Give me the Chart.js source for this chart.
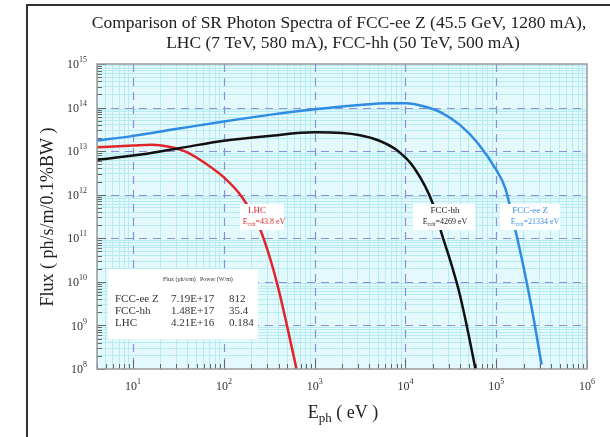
<!DOCTYPE html>
<html>
<head>
<meta charset="utf-8">
<script src="https://cdn.jsdelivr.net/npm/chart.js@4.4.1/dist/chart.umd.min.js"></script>
<style>
  html, body { margin: 0; padding: 0; background: #fff; }
</style>
</head>
<body>
<canvas id="chart" width="610" height="437"></canvas>
<script>
// photon energy (eV) / flux (ph/s/m/0.1%BW)
const eeZEnergy = [4, 10, 32, 100, 316, 1000, 3160, 6300, 10000, 15800, 25100, 39800, 63100, 100000, 126000, 158000, 200000, 251000, 316000];
const eeZFlux   = [1.74e13, 2.24e13, 3.3e13, 4.8e13, 6.8e13, 9.1e13, 1.15e14, 1.26e14, 1.25e14, 1.07e14, 7.6e13, 4.0e13, 1.5e13, 3.7e12, 1.4e12, 2.0e11, 2.2e10, 2.0e9, 1.26e8];

const hhEnergy = [4, 10, 32, 100, 316, 1000, 2000, 3160, 5000, 7940, 12600, 20000, 25100, 31600, 39800, 50100, 59000];
const hhFlux   = [6.3e12, 7.9e12, 1.17e13, 1.74e13, 2.24e13, 2.7e13, 2.62e13, 2.32e13, 1.78e13, 1.07e13, 4.0e12, 6.3e11, 1.26e11, 2.8e10, 5.0e9, 5.6e8, 1.0e8];

const lhcEnergy = [4, 10, 16, 25, 40, 63, 100, 158, 251, 316, 398, 501, 631];
const lhcFlux   = [1.23e13, 1.35e13, 1.41e13, 1.26e13, 9.3e12, 5.2e12, 2.5e12, 8.9e11, 1.6e11, 4.0e10, 7.1e9, 8.9e8, 1.0e8];

const xRange = [4, 1e6];
const yRange = [1e8, 1e15];
const xDecades = [1, 2, 3, 4, 5, 6];
const yDecades = [8, 9, 10, 11, 12, 13, 14, 15];

const critLabels = [
  { name: 'LHC', ecrit: '=43.8 eV', color: '#e0262a' },
  { name: 'FCC-hh', ecrit: '=4269 eV', color: '#222' },
  { name: 'FCC-ee Z', ecrit: '=21334 eV', color: '#3a8ee0' }
];
const tableRows = [
  ['FCC-ee Z', '7.19E+17', '812'],
  ['FCC-hh', '1.48E+17', '35.4'],
  ['LHC', '4.21E+16', '0.184']
];

const SERIF = '"Liberation Serif", "DejaVu Serif", serif';

function pts(xs, ys) { return xs.map((x, i) => ({ x: x, y: ys[i] })); }

function isDecade(v) {
  const l = Math.log10(v);
  return Math.abs(l - Math.round(l)) < 1e-6;
}

function logTicks(min, max) {
  const out = [];
  for (let k = Math.floor(Math.log10(min)); k <= Math.ceil(Math.log10(max)); k++) {
    for (let n = 1; n < 10; n++) {
      const v = n * Math.pow(10, k);
      if (v >= min * 0.999 && v <= max * 1.001) out.push({ value: v });
    }
  }
  return out;
}

function gridColor(ctx) {
  if (!ctx.tick) return '#b6ebf1';
  return isDecade(ctx.tick.value) ? 'rgba(0,0,0,0)' : '#b6ebf1';
}

// "10" with a raised exponent
function drawPow(ctx, exp, x, y, align) {
  ctx.font = '12px ' + SERIF;
  const wb = ctx.measureText('10').width;
  ctx.font = '8px ' + SERIF;
  const we = ctx.measureText(String(exp)).width;
  let left = x;
  if (align === 'right') left = x - wb - we;
  if (align === 'center') left = x - (wb + we) / 2;
  ctx.textAlign = 'left';
  ctx.textBaseline = 'middle';
  ctx.font = '12px ' + SERIF;
  ctx.fillText('10', left, y);
  ctx.font = '8px ' + SERIF;
  ctx.fillText(String(exp), left + wb, y - 5);
}

// base with lowered subscript then rest, centred at x
function drawSub(ctx, base, sub, rest, x, y, size) {
  const subSize = Math.round(size * 0.7);
  ctx.font = size + 'px ' + SERIF;
  const w1 = ctx.measureText(base).width;
  const w3 = ctx.measureText(rest).width;
  ctx.font = subSize + 'px ' + SERIF;
  const w2 = ctx.measureText(sub).width;
  let left = x - (w1 + w2 + w3) / 2;
  ctx.textAlign = 'left';
  ctx.textBaseline = 'middle';
  ctx.font = size + 'px ' + SERIF;
  ctx.fillText(base, left, y);
  ctx.font = subSize + 'px ' + SERIF;
  ctx.fillText(sub, left + w1, y + size * 0.3);
  ctx.font = size + 'px ' + SERIF;
  ctx.fillText(rest, left + w1 + w2, y);
}

const backdrop = {
  id: 'backdrop',
  beforeDraw(chart) {
    const { ctx, chartArea: a } = chart;
    ctx.save();
    ctx.fillStyle = '#fff';
    ctx.fillRect(0, 0, chart.width, chart.height);
    ctx.fillStyle = '#e4f9fb';
    ctx.fillRect(a.left, a.top, a.right - a.left, a.bottom - a.top);
    ctx.restore();
  },
  beforeDatasetsDraw(chart) {
    const { ctx, chartArea: a, scales } = chart;
    const xs = scales.x, ys = scales.y;
    ctx.save();
    // dashed decade lines
    ctx.strokeStyle = '#8c90d8';
    ctx.lineWidth = 1.2;
    ctx.setLineDash([8, 6]);
    xDecades.forEach(d => {
      const px = Math.round(xs.getPixelForValue(Math.pow(10, d))) + 0.5;
      if (px <= a.left + 1 || px >= a.right - 1) return;
      ctx.beginPath(); ctx.moveTo(px, a.top); ctx.lineTo(px, a.bottom); ctx.stroke();
    });
    yDecades.forEach(d => {
      const py = Math.round(ys.getPixelForValue(Math.pow(10, d))) + 0.5;
      if (py <= a.top + 1 || py >= a.bottom - 1) return;
      ctx.beginPath(); ctx.moveTo(a.left, py); ctx.lineTo(a.right, py); ctx.stroke();
    });
    ctx.setLineDash([]);
    // small inward tick marks on left and bottom
    ctx.strokeStyle = '#666';
    ctx.lineWidth = 1;
    xs.ticks.forEach(t => {
      const px = Math.round(xs.getPixelForValue(t.value)) + 0.5;
      const len = isDecade(t.value) ? 9 : 5;
      ctx.beginPath(); ctx.moveTo(px, a.bottom); ctx.lineTo(px, a.bottom - len); ctx.stroke();
    });
    ys.ticks.forEach(t => {
      const py = Math.round(ys.getPixelForValue(t.value)) + 0.5;
      const len = isDecade(t.value) ? 9 : 5;
      ctx.beginPath(); ctx.moveTo(a.left, py); ctx.lineTo(a.left + len, py); ctx.stroke();
    });
    ctx.restore();
  },
  afterDatasetsDraw(chart) {
    const { ctx, chartArea: a, scales } = chart;
    ctx.save();
    // plot border
    ctx.strokeStyle = '#9a9a9a';
    ctx.lineWidth = 1.5;
    ctx.strokeRect(a.left, a.top, a.right - a.left, a.bottom - a.top);

    // tick labels
    ctx.fillStyle = '#333';
    yDecades.forEach(d => drawPow(ctx, d, 87, scales.y.getPixelForValue(Math.pow(10, d)) + 1, 'right'));
    xDecades.forEach(d => drawPow(ctx, d, scales.x.getPixelForValue(Math.pow(10, d)), 387, 'center'));

    // titles
    ctx.fillStyle = '#222';
    ctx.textAlign = 'center';
    ctx.textBaseline = 'middle';
    ctx.font = '17.5px ' + SERIF;
    ctx.fillText('Comparison of SR Photon Spectra of FCC-ee Z (45.5 GeV, 1280 mA),', 339, 23);
    ctx.fillText('LHC (7 TeV, 580 mA), FCC-hh (50 TeV, 500 mA)', 343, 43);
    drawSub(ctx, 'E', 'ph', ' ( eV )', 343, 413, 18);
    ctx.save();
    ctx.translate(48, 217);
    ctx.rotate(-Math.PI / 2);
    ctx.textAlign = 'center';
    ctx.font = '18px ' + SERIF;
    ctx.fillText('Flux ( ph/s/m/0.1%BW )', 0, 0);
    ctx.restore();

    // critical energy labels
    const boxes = [[240, 204, 44, 26, 257, 264], [413, 204, 62, 26, 445, 445], [500, 204, 60, 26, 530, 535]];
    critLabels.forEach((l, i) => {
      const b = boxes[i];
      ctx.fillStyle = '#fff';
      ctx.fillRect(b[0], b[1], b[2], b[3]);
      ctx.fillStyle = l.color;
      ctx.textAlign = 'center';
      ctx.textBaseline = 'middle';
      ctx.font = '9px ' + SERIF;
      ctx.fillText(l.name, b[4], 211);
      drawSub(ctx, 'E', 'crit', l.ecrit, b[5], 222, 8);
    });

    // flux / power table
    ctx.fillStyle = '#fff';
    ctx.fillRect(108, 269, 150, 70);
    ctx.fillStyle = '#333';
    ctx.textAlign = 'left';
    ctx.textBaseline = 'middle';
    ctx.font = '6px ' + SERIF;
    ctx.fillText('Flux (ph/s/m)', 163, 279);
    ctx.fillText('Power (W/m)', 200, 279);
    ctx.font = '11px ' + SERIF;
    tableRows.forEach((r, i) => {
      const y = 299 + i * 12;
      ctx.fillText(r[0], 115, y);
      ctx.fillText(r[1], 171, y);
      ctx.fillText(r[2], 229, y);
    });

    // outer frame
    ctx.strokeStyle = '#333';
    ctx.lineWidth = 2;
    ctx.beginPath();
    ctx.moveTo(27, 437); ctx.lineTo(27, 5); ctx.lineTo(610, 5);
    ctx.stroke();
    ctx.restore();
  }
};

const lineStyle = { borderWidth: 2.5, pointRadius: 0, cubicInterpolationMode: 'monotone', fill: false };

new Chart(document.getElementById('chart'), {
  type: 'line',
  data: {
    datasets: [
      Object.assign({ label: 'FCC-ee Z', data: pts(eeZEnergy, eeZFlux), borderColor: '#2f8be3' }, lineStyle),
      Object.assign({ label: 'FCC-hh', data: pts(hhEnergy, hhFlux), borderColor: '#111' }, lineStyle),
      Object.assign({ label: 'LHC', data: pts(lhcEnergy, lhcFlux), borderColor: '#e0262a' }, lineStyle)
    ]
  },
  options: {
    responsive: false,
    animation: false,
    layout: { padding: { left: 97, right: 23, top: 64, bottom: 68 } },
    plugins: { legend: { display: false }, tooltip: { enabled: false } },
    scales: {
      x: {
        type: 'logarithmic', min: xRange[0], max: xRange[1],
        afterBuildTicks: s => { s.ticks = logTicks(xRange[0], xRange[1]); },
        ticks: { display: false, autoSkip: false },
        grid: { color: gridColor, lineWidth: 1, drawTicks: false },
        border: { display: false }
      },
      y: {
        type: 'logarithmic', min: yRange[0], max: yRange[1],
        afterBuildTicks: s => { s.ticks = logTicks(yRange[0], yRange[1]); },
        ticks: { display: false, autoSkip: false },
        grid: { color: gridColor, lineWidth: 1, drawTicks: false },
        border: { display: false }
      }
    }
  },
  plugins: [backdrop]
});
</script>
</body>
</html>
